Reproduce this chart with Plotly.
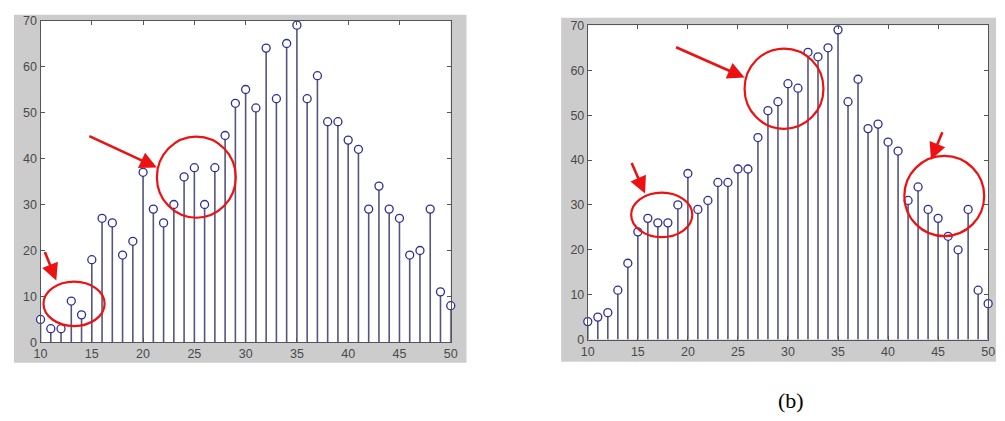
import plotly.graph_objects as go

W, H = 1005, 421

x_vals = list(range(10, 51))
left_vals = [5, 3, 3, 9, 6, 18, 27, 26, 19, 22, 37, 29, 26, 30, 36, 38, 30, 38, 45, 52,
             55, 51, 64, 53, 65, 69, 53, 58, 48, 48, 44, 42, 29, 34, 29, 27, 19, 20, 29, 11, 8]
right_vals = [4, 5, 6, 11, 17, 24, 27, 26, 26, 30, 37, 29, 31, 35, 35, 38, 38, 45, 51, 53,
              57, 56, 64, 63, 65, 69, 53, 58, 47, 48, 44, 42, 31, 34, 29, 27, 23, 20, 29, 11, 8]
x_ticks = [10, 15, 20, 25, 30, 35, 40, 45, 50]
y_ticks = [0, 10, 20, 30, 40, 50, 60, 70]
caption = "(b)"


def px(x):
    return x / W


def py(y):
    return 1 - y / H


def stems(xs, ys):
    sx, sy = [], []
    for a, b in zip(xs, ys):
        sx += [a, a, None]
        sy += [0, b, None]
    return sx, sy


stem_color = "#55557f"
marker_color = "#2e2e9a"

fig = go.Figure()
for vals, xa, ya in [(left_vals, "x", "y"), (right_vals, "x2", "y2")]:
    sx, sy = stems(x_vals, vals)
    fig.add_trace(go.Scatter(x=sx, y=sy, mode="lines", xaxis=xa, yaxis=ya,
                             line=dict(color=stem_color, width=1.6),
                             hoverinfo="skip", showlegend=False))
    fig.add_trace(go.Scatter(x=x_vals, y=vals, mode="markers", xaxis=xa, yaxis=ya,
                             marker=dict(symbol="circle", size=8, color="white",
                                         line=dict(color=marker_color, width=1.3)),
                             showlegend=False, cliponaxis=False))

axis_common = dict(showline=True, linecolor="#555555", linewidth=1, mirror="ticks",
                   ticks="inside", ticklen=4, tickcolor="#555555", showgrid=False,
                   zeroline=False,
                   tickfont=dict(family="Liberation Sans", size=12.5, color="#4a4a4a"))

left_dom = (34, 450, 14, 347)
right_dom = (589, 995, 19, 344)

fig.update_layout(
    width=W, height=H, margin=dict(l=0, r=0, t=0, b=0),
    paper_bgcolor="white", plot_bgcolor="white",
    xaxis=dict(domain=[px(left_dom[0]), px(left_dom[1])], range=[10, 50], tickvals=x_ticks,
               anchor="y", **axis_common),
    yaxis=dict(domain=[py(left_dom[3]), py(left_dom[2])], range=[0, 70], tickvals=y_ticks,
               anchor="x", **axis_common),
    xaxis2=dict(domain=[px(right_dom[0]), px(right_dom[1])], range=[10, 50], tickvals=x_ticks,
                anchor="y2", **axis_common),
    yaxis2=dict(domain=[py(right_dom[3]), py(right_dom[2])], range=[0, 70], tickvals=y_ticks,
                anchor="x2", **axis_common),
)

shapes = [
    dict(type="rect", xref="paper", yref="paper", x0=px(7), x1=px(466), y0=py(368), y1=py(8),
         fillcolor="#cccccc", line=dict(width=0), layer="below"),
    dict(type="rect", xref="paper", yref="paper", x0=px(562), x1=px(1003), y0=py(367), y1=py(11),
         fillcolor="#cccccc", line=dict(width=0), layer="below"),
]
for x0, x1, y0, y1 in (left_dom, right_dom):
    shapes.append(dict(type="rect", xref="paper", yref="paper", x0=px(x0), x1=px(x1),
                       y0=py(y1), y1=py(y0), fillcolor="white", line=dict(width=0),
                       layer="below"))
ellipses = [(37, 284, 99, 330), (152, 134, 232, 218),
            (633, 192, 695, 238), (748, 43, 828, 126), (910, 154, 991, 237)]
for x0, y0, x1, y1 in ellipses:
    shapes.append(dict(type="circle", xref="paper", yref="paper",
                       x0=px(x0), x1=px(x1), y0=py(y1), y1=py(y0),
                       line=dict(color="#ee1111", width=2.2), layer="above"))
fig.update_layout(shapes=shapes)

arrows = [((38, 253), (50, 283)), ((83, 134), (152, 166)),
          ((633, 161), (647, 193)), ((678, 42), (748, 73)), ((949, 129), (937, 158))]
annotations = []
for (tx, ty), (hx, hy) in arrows:
    annotations.append(dict(xref="paper", yref="paper", x=px(hx), y=py(hy),
                            ax=tx - hx, ay=ty - hy, text="", showarrow=True,
                            arrowhead=2, arrowsize=1.3, arrowwidth=2.6,
                            arrowcolor="#ee1111"))
annotations.append(dict(xref="paper", yref="paper", x=px(795), y=py(407), text=caption,
                        showarrow=False, xanchor="center", yanchor="middle",
                        font=dict(family="Liberation Serif", size=22, color="black")))
fig.update_layout(annotations=annotations)

fig.write_html("out.html", config={"displayModeBar": False},
               post_script="document.body.style.margin='0';document.body.style.overflow='hidden';")
